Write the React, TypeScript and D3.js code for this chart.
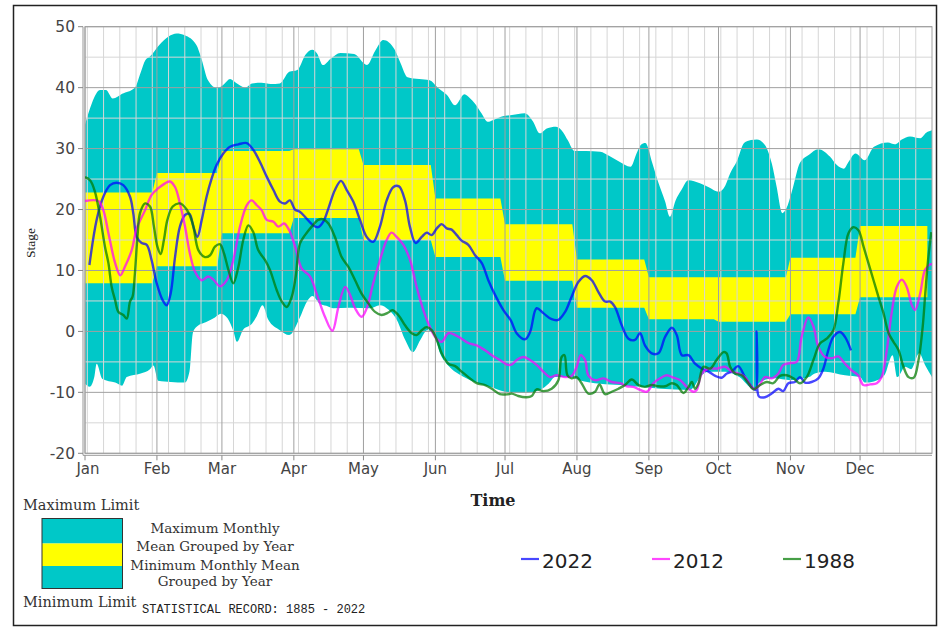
import React from "react";
import * as d3 from "d3";

// ---------- DATA (day of year, stage) ----------
const monthLabels = ["Jan", "Feb", "Mar", "Apr", "May", "Jun", "Jul", "Aug", "Sep", "Oct", "Nov", "Dec"];
const yTicks = [-20, -10, 0, 10, 20, 30, 40, 50];

const maxMonthlyMean = [22.8, 26.0, 29.6, 29.9, 27.3, 21.8, 17.6, 11.8, 8.9, 8.9, 12.1, 17.3];
const minMonthlyMean = [7.9, 10.7, 16.1, 18.6, 15.0, 12.2, 8.3, 3.9, 2.0, 1.6, 2.8, 5.6];

const maxLimit: [number, number][] = [
  [0, 33.9], [3, 37.5], [6.5, 39.6], [9, 39.6], [12, 38.2], [16, 39], [21.5, 40], [24, 42.5], [26, 44.5], [28, 45.1],
  [32, 47], [36, 48.4], [39.5, 48.9], [43, 48.6], [48, 47], [50, 45], [53, 41.2], [57, 39.9], [60, 40.6], [62.5, 41.4],
  [65, 40.8], [69, 40], [72, 40.7], [76, 40.8], [80, 40.6], [84, 40.7], [88, 42.6], [91.5, 42.9], [95, 45.4], [98, 46.2],
  [100, 45.6], [102.5, 43.7], [106, 44.8], [110, 45.7], [116, 45.5], [121.5, 43.7], [125, 46], [128.5, 47.8], [131, 47.4],
  [133.5, 46.2], [136, 44], [139, 41.7], [144, 41.4], [148.5, 41.2], [152, 40], [156, 38.8], [159.5, 37.1], [163.5, 38.9],
  [166, 38.2], [168, 37.4], [171, 35.7], [173.5, 34.4], [176, 34.7], [179, 35.2], [184, 35.5], [189.5, 35.8], [193, 34.5],
  [196, 32.5], [199, 33.3], [203, 33.6], [206, 32.7], [208, 31.4], [211, 29.6], [216, 29.6], [222, 29.5], [226, 28.8],
  [230.5, 27.8], [235, 27], [238, 29.5], [239.5, 30.6], [241.5, 30.9], [244.5, 27.6], [247, 24.5], [250, 21.3], [252, 18.8],
  [254.5, 21.5], [257, 23.2], [260, 24.8], [265, 24.3], [269, 23.6], [273, 22.9], [276, 24], [278, 25.9], [281, 28],
  [284, 30.9], [287, 31.4], [289.5, 31.5], [293, 30.6], [296, 27.5], [298, 23.8], [300.5, 19.4], [302.5, 20.4], [305, 23.5],
  [308, 27.6], [312, 29], [316, 29.9], [321, 28.7], [324, 27.3], [327, 26.7], [329, 27.8], [332, 29.2], [336, 28.1],
  [340, 30.3], [346, 31], [349, 30.7], [352, 31.5], [355.5, 32], [360, 31.7], [362.5, 32.6], [365, 33],
];

const minLimit: [number, number][] = [
  [0, -8.6], [2, -9.1], [4, -7.5], [5, -5.3], [7.5, -7.8], [13, -8.4], [16, -8.9], [18, -7.5], [24, -6.9], [28, -6.2],
  [29.5, -5.6], [31.5, -8.1], [37, -8.3], [43, -8.4], [45, -6.6], [46.5, -0.2], [48.5, 0.9], [52, 1.5], [56, 2.3],
  [58.5, 2.9], [61.5, 2.1], [64, 0], [65.5, -1.7], [68, 0.2], [72, 1.3], [74, 2.5], [76.5, 4.3], [79, 1.9], [84, 0.2],
  [88, -0.6], [92.5, 2.2], [95.5, 4.8], [98, 5.8], [101, 4.6], [104, 4.2], [107, 3.8], [114, 3.9], [123, 3.8], [127, 4.3],
  [131, 3.5], [134.5, 1.8], [138, -1.4], [141.3, -3.4], [144.5, -1.4], [147.5, 0.2], [150.5, -0.6], [153, -3.6],
  [157, -5.8], [161, -7], [166, -8], [174.5, -9.1], [181, -9.9], [189.5, -10.1], [196, -9.6], [200, -8.5], [202.5, -7.5],
  [209, -7.5], [213, -8], [222, -8.6], [230.5, -8.8], [239, -9.1], [248, -9.4], [260.5, -9.6], [263, -8.8], [265, -7.5],
  [269, -6.6], [276, -6.6], [282, -7.5], [288, -9.4], [291, -8.3], [297, -7.7], [304, -8], [312, -7.5], [314.5, -6.9],
  [319, -6.6], [327.5, -7.2], [334, -7.5], [336, -8.4], [340, -8.2], [344.5, -7.2], [348, -3.9], [350, -7.5],
  [353.5, -5.8], [356, -6.2], [359.5, -3.6], [362, -5.5], [365, -7.5],
];

const series2022: [number, number][] = [
  [1.9, 10.9], [5, 18.3], [7.9, 22.1], [10.8, 24], [13.6, 24.4], [16.5, 24], [19.4, 22.1], [20.8, 19.4], [22.3, 15.5],
  [24.4, 14.5], [26.6, 14.2], [28.7, 11.7], [30.9, 7.9], [33.5, 5.1], [35.2, 4.3], [36.9, 6.2], [38.8, 12.2], [40.9, 17.2],
  [43.1, 19.1], [45, 19.3], [46.7, 17.2], [48.4, 15.5], [50.3, 18.3], [52.4, 22.1], [54.6, 25.1], [56.7, 27.3],
  [59.6, 29.2], [62.5, 30.3], [66.1, 30.7], [69.7, 30.9], [72.5, 29.8], [75.4, 27.8], [78.3, 25.4], [81.2, 23.2],
  [84, 21.3], [86.2, 21], [88.3, 21.5], [90.5, 20], [92.7, 19.6], [94.8, 18.8], [98.4, 17.4], [100.5, 17.1], [102.7, 18],
  [104.9, 20.2], [107.7, 23.2], [110.3, 24.7], [112.8, 23.2], [115.6, 21.3], [118.5, 18.3], [121.4, 15.5], [124.2, 14.7],
  [127.1, 17.2], [130, 21.5], [132.9, 23.7], [135.3, 23.8], [137.9, 21.5], [140, 17.2], [142.5, 14.5], [145.1, 15.5],
  [147.2, 16.2], [149.4, 15.8], [151.6, 16.9], [153.7, 17.6], [155.9, 16.9], [158, 16.7], [160.2, 15.8], [162.3, 14.9],
  [165.2, 14.2], [168.1, 12.5], [171, 11.2], [173.8, 8.4], [176.7, 6], [180.3, 3.5], [183.5, 1.8], [186, -0.3],
  [189.6, -1.3], [191.8, -0.1], [194.6, 3.8], [197.5, 3], [201.1, 2], [204, 1.9], [206.9, 3.2], [209.7, 5.7], [212.6, 8.1],
  [215.5, 9.1], [218.4, 8.4], [221.2, 6.5], [224.1, 4.9], [226.3, 4.9], [228.4, 4], [231.3, 1], [234.2, -1.2],
  [237, -1.4], [239.2, -0.3], [241.3, -2.3], [244.2, -3.6], [247.1, -3.6], [250, -0.9], [252.9, 0.6], [255, -0.6],
  [257.2, -3.9], [260.1, -3.9], [262.9, -5.3], [265.8, -6.1], [268.7, -6.6], [271.6, -7.3], [274.4, -7.6], [276.6, -6.9],
  [278.7, -6.6], [281.5, -5.7], [284.4, -7.5], [287.3, -9.1], [289, -9.6], [289.4, 0], [289.8, -9.8], [290.5, -10.7],
  [293, -10.8], [295.9, -10.2], [298.8, -9.4], [300.9, -9.8], [303.1, -8.5], [305.9, -8.3], [308.1, -7.5], [310.3, -8.4],
  [313.1, -8.3], [316, -7.7], [318.2, -6.1], [320.3, -3.1], [322.5, -0.9], [325.3, -0.1], [327.5, -0.9], [330.1, -3.1],
];

const series2012: [number, number][] = [
  [0, 21.4], [5.7, 21.4], [7.9, 19.9], [10.1, 16.1], [13, 11.2], [15.2, 9.2], [17.2, 10.6], [20.1, 13.3], [22.3, 16.9],
  [25.9, 19.9], [28.7, 22.4], [31.6, 23.5], [34.5, 24.3], [36.6, 24.6], [38.8, 23.7], [40.9, 21], [43.1, 17.2],
  [45.2, 12.8], [47.4, 9.8], [50.3, 8.4], [53.1, 9], [55.3, 8.5], [58.2, 7.4], [61.1, 8.4], [63.9, 11.7], [66.8, 17.2],
  [69.7, 20.7], [71.8, 21.5], [74, 20.7], [76.1, 19.9], [78.3, 18.3], [81.2, 18], [83.3, 17.2], [85.8, 17.7], [88, 16.6],
  [90.5, 14], [93.4, 10.3], [97, 9], [99.8, 6.2], [103.4, 2.4], [106.6, 0.1], [109.2, 4], [112.1, 7.3], [114.2, 6],
  [116.4, 3.8], [119.2, 2.4], [121.4, 3.8], [124.2, 7.9], [127.1, 11.7], [130, 15], [132.1, 16.2], [134.3, 15.5],
  [137.2, 14.2], [140.1, 11.7], [142.9, 7.3], [145.8, 3.5], [148, 1.3], [150.9, -0.9], [153.7, -1.7], [156.6, -0.3],
  [159.5, -0.6], [162.3, -1.2], [165.2, -1.9], [168.8, -2.3], [172.4, -3.1], [175.3, -3.9], [178.8, -4.7], [182.4, -5.5],
  [184, -5.4], [186, -4.7], [188.9, -4.2], [191.8, -4.7], [194.6, -5.5], [197.5, -6.6], [200.4, -7.5], [203.2, -7.2],
  [206.9, -7.5], [209.7, -7.3], [211.9, -5.8], [213.6, -3.9], [215.5, -4.7], [216.9, -7.2], [219.8, -8], [223.4, -7.7],
  [227, -8.3], [230.6, -8.5], [233.5, -9], [236.3, -9.1], [239.2, -9.6], [242.1, -9.9], [245, -8.5], [247.8, -7.7],
  [250.7, -7.2], [253.6, -7.6], [256.5, -8], [259.3, -9.1], [262.2, -9.9], [263.6, -9.6], [265.8, -6.9], [268.7, -6.1],
  [272.3, -6.1], [275.9, -5.8], [278.7, -6.6], [281.5, -6.9], [284.4, -7.5], [288, -9.4], [290.1, -9.1], [293, -7.5],
  [295.9, -7.7], [298.8, -6.9], [300.9, -5.5], [303.8, -5.2], [306.7, -5], [308.8, -0.9], [311.7, 2.3], [313.9, 0.8],
  [316, -2.5], [318.9, -4.2], [321.8, -4.4], [324.6, -4.1], [327.5, -5.3], [330.4, -6.4], [333.2, -7.2], [335.4, -8.8],
  [338.3, -8.7], [341.2, -8.5], [343.3, -7.5], [345.5, -3.1], [347.6, 3], [349.8, 7.3], [352, 8.5], [354.1, 7.3],
  [356.3, 4.3], [357.7, 3.5], [359.9, 6.2], [362, 10.1], [364.2, 11], [365, 11],
];

const series1988: [number, number][] = [
  [0, 25.3], [2.2, 24.8], [4.3, 22.9], [6.5, 18.8], [8.6, 13.9], [10.1, 11.2], [11.5, 7.3], [13, 5.1], [14.4, 3.2],
  [16.5, 2.7], [18, 2.1], [19.4, 4.9], [20.5, 5.7], [21.5, 9.5], [22.6, 15.5], [23.7, 19.4], [25.9, 21], [28, 20.5],
  [29.7, 17.2], [31.2, 13.9], [32.6, 12.7], [34, 15], [35.5, 18.3], [37.8, 20.5], [40.9, 21], [43.8, 20], [46.4, 17.7],
  [48.9, 13.3], [51.7, 12.2], [53.9, 12.5], [56, 13.9], [58.2, 14.3], [59.9, 12.8], [61.8, 10.1], [63.9, 7.9],
  [66.1, 10.6], [68.2, 15], [70.4, 17.4], [72.5, 16.3], [74.7, 13.3], [77.6, 11.7], [79.7, 10.1], [82.6, 6.8],
  [84.8, 4.9], [86.9, 4], [89.1, 5.7], [90.8, 9], [92.6, 14.4], [94.8, 15.8], [97.7, 17.2], [100.5, 18.3], [102.7, 18.4],
  [104.9, 17.7], [107.7, 15.5], [110.6, 12.2], [113.5, 10.6], [116.4, 8.4], [119.2, 6.2], [122.1, 4.6], [125, 3.2],
  [127.8, 2.7], [130.7, 3.1], [132.4, 3.5], [135, 2.7], [137.9, 1], [140.8, -0.3], [142.9, -0.6], [145.1, 0.2],
  [147.2, 0.7], [149.4, 0.2], [151.6, -1.4], [153.7, -3.6], [156.6, -5.3], [159.5, -5.7], [162.3, -6.6], [165.2, -7.5],
  [168.8, -8.5], [172.4, -8.8], [175.3, -9.4], [178.8, -10.3], [182.4, -10.3], [184, -10.2], [186.7, -10.6],
  [190.3, -10.8], [192.5, -10.6], [194.6, -9.5], [197.5, -9.8], [201.1, -9.4], [204, -8], [205.4, -4.2], [206.6, -3.9],
  [207.9, -7.2], [209.7, -7.7], [211.9, -7.5], [214, -8.5], [216.9, -10.2], [219.8, -9.9], [221.7, -8.7], [224.1, -10.3],
  [227, -9.9], [229.9, -9.4], [232.7, -8.8], [235.6, -7.9], [238.5, -8.8], [241.3, -9.1], [244.2, -8.8], [247.1, -9],
  [250, -9], [252.9, -8.5], [255, -8.8], [257.9, -10.1], [260.1, -9.1], [261.5, -8.3], [262.9, -9.4], [264.4, -8.5],
  [266.5, -5.8], [269.4, -6.1], [272.3, -4.6], [275.2, -3.4], [276.5, -3.6], [278, -5.8], [280.1, -6.9], [283, -7.2],
  [285.9, -8.5], [288, -9.5], [290.9, -8.8], [293.8, -8.3], [296.6, -8.5], [299.5, -7.3], [302.4, -7.2], [305.3, -7.7],
  [308.1, -8.5], [311, -7.5], [313.9, -4.7], [316.7, -2], [319.6, -1.2], [322.5, 0.2], [324.6, 4.6], [326.8, 11.2],
  [329, 16.1], [331.1, 17.1], [333.3, 16.6], [335.5, 13.9], [337.6, 11.2], [339.8, 8.4], [341.9, 5.7], [344.1, 3],
  [346.3, -0.3], [348.4, -1.7], [350.6, -3.1], [352.7, -5.8], [354.9, -7.5], [357.1, -7.6], [359.2, -4.7], [361, 0.8],
  [362.1, 6.2], [363.3, 11.7], [364.7, 16.3],
];

const legendYears = ["2022", "2012", "1988"];
const lineColors = ["#0000ff", "#ff00ff", "#007a00"];

// ---------- LAYOUT ----------
const W = 940;
const H = 628;
const PL = 85, PR = 932, PT = 26.7, PB = 453.3;

export default function App() {
  const yearStart = new Date(2022, 0, 1);
  const yearEnd = new Date(2023, 0, 1);
  const dayOf = (dt: Date) => d3.timeDay.count(yearStart, dt);
  const x = d3.scaleLinear().domain([0, 365]).range([PL, PR]);
  const y = d3.scaleLinear().domain([-20, 50]).range([PB, PT]);

  const monthDays = d3.timeMonth.range(yearStart, yearEnd).map(dayOf);
  const weekDays = d3.timeSunday.range(yearStart, yearEnd).map(dayOf);
  const minorY = d3.range(-20, 51, 5).filter((v) => v % 10 !== 0);

  const smooth = d3.curveMonotoneX;
  const topArea = d3.area<[number, number]>().x((d) => x(d[0])).y0(PB).y1((d) => y(d[1])).curve(smooth);

  const bandPts: { d: number; lo: number; hi: number }[] = [];
  monthDays.forEach((s, i) => {
    const e = (i < 11 ? monthDays[i + 1] : 365) - 2;
    bandPts.push({ d: s, lo: minMonthlyMean[i], hi: maxMonthlyMean[i] });
    bandPts.push({ d: e, lo: minMonthlyMean[i], hi: maxMonthlyMean[i] });
  });
  const band = d3.area<{ d: number; lo: number; hi: number }>()
    .x((p) => x(p.d)).y0((p) => y(p.lo)).y1((p) => y(p.hi));

  const line = d3.line<[number, number]>().x((d) => x(d[0])).y((d) => y(d[1])).curve(d3.curveCatmullRom.alpha(0.5));
  const allSeries = [series2022, series2012, series1988];

  const serif = "'DejaVu Serif', serif";
  const sans = "'DejaVu Sans', sans-serif";

  return (
    <svg width={W} height={H} style={{ position: "absolute", left: 0, top: 0, background: "#fff" }}>
      <rect x={13.5} y={5.5} width={923} height={620} fill="#fff" stroke="#222" strokeWidth={1.5} />
      <defs>
        <clipPath id="plotclip">
          <rect x={PL} y={PT} width={PR - PL} height={PB - PT} />
        </clipPath>
      </defs>
      <g clipPath="url(#plotclip)">
        <path d={topArea(maxLimit) || ""} fill="#00c8c8" />
        <path d={topArea(minLimit) || ""} fill="#ffffff" />
        <path d={band(bandPts) || ""} fill="#ffff00" />
      </g>
      {/* grid */}
      <g>
        {minorY.map((v) => (
          <line key={"my" + v} x1={PL} x2={PR} y1={y(v)} y2={y(v)} stroke="#d6d6d6" strokeWidth={1} />
        ))}
        {weekDays.map((d) => (
          <line key={"wx" + d} x1={x(d)} x2={x(d)} y1={PT} y2={PB} stroke="#d6d6d6" strokeWidth={1} />
        ))}
        {yTicks.map((v) => (
          <line key={"My" + v} x1={PL} x2={PR} y1={y(v)} y2={y(v)} stroke="#a0a0a0" strokeWidth={1} />
        ))}
        {monthDays.map((d) => (
          <line key={"Mx" + d} x1={x(d)} x2={x(d)} y1={PT} y2={PB} stroke="#a0a0a0" strokeWidth={1} />
        ))}
        <rect x={PL} y={PT} width={PR - PL} height={PB - PT} fill="none" stroke="#a0a0a0" strokeWidth={1} />
      </g>
      {/* axes */}
      <line x1={PL - 2} x2={PL - 2} y1={PT} y2={PB + 2} stroke="#999" strokeWidth={1} />
      <line x1={PL - 2} x2={PR} y1={PB + 2} y2={PB + 2} stroke="#999" strokeWidth={1} />
      {yTicks.map((v) => (
        <g key={"yt" + v}>
          <line x1={PL - 7} x2={PL - 2} y1={y(v)} y2={y(v)} stroke="#888" />
          <text x={PL - 10} y={y(v)} dy="0.36em" textAnchor="end" fontFamily={sans} fontSize={15.5} fill="#444">
            {v}
          </text>
        </g>
      ))}
      {monthDays.map((d, i) => (
        <g key={"xt" + d}>
          <line x1={x(d)} x2={x(d)} y1={PB + 2} y2={PB + 7} stroke="#888" />
          <text x={x(d) + (i === 0 ? 3 : 0)} y={474} textAnchor="middle" fontFamily={sans} fontSize={15} fill="#444">
            {monthLabels[i]}
          </text>
        </g>
      ))}
      {/* series */}
      <g clipPath="url(#plotclip)">
        {allSeries.map((s, i) => (
          <path key={"s" + i} d={line(s) || ""} fill="none" stroke={lineColors[i]} strokeOpacity={0.72}
            strokeWidth={2.4} strokeLinejoin="round" />
        ))}
      </g>
      {/* axis titles */}
      <text transform="translate(35,243) rotate(-90)" textAnchor="middle" fontFamily="'Liberation Serif', serif"
        fontSize={13.5} fill="#222">Stage</text>
      <text x={493} y={506} textAnchor="middle" fontFamily={serif} fontWeight="bold" fontSize={16} fill="#222">Time</text>

      {/* range legend */}
      <text x={23} y={510} fontFamily={serif} fontSize={14.5} fill="#333">Maximum Limit</text>
      <rect x={42} y={518.5} width={80.5} height={25} fill="#00c8c8" />
      <rect x={42} y={543.5} width={80.5} height={22.5} fill="#ffff00" />
      <rect x={42} y={566} width={80.5} height={22.5} fill="#00c8c8" />
      <rect x={42} y={518.5} width={80.5} height={70} fill="none" stroke="#333" strokeWidth={1} />
      <text x={215} y={533} textAnchor="middle" fontFamily={serif} fontSize={13.5} fill="#333">Maximum Monthly</text>
      <text x={215} y={550.5} textAnchor="middle" fontFamily={serif} fontSize={13.5} fill="#333">Mean Grouped by Year</text>
      <text x={215} y={570} textAnchor="middle" fontFamily={serif} fontSize={13.5} fill="#333">Minimum Monthly Mean</text>
      <text x={215} y={585.5} textAnchor="middle" fontFamily={serif} fontSize={13.5} fill="#333">Grouped by Year</text>
      <text x={23} y={607} fontFamily={serif} fontSize={14.5} fill="#333">Minimum Limit</text>
      <text x={142} y={613} fontFamily="'Liberation Mono', monospace" fontSize={12} fill="#222">
        STATISTICAL RECORD: 1885 - 2022
      </text>

      {/* series legend */}
      {legendYears.map((yr, i) => {
        const lx = [521, 652, 783][i];
        return (
          <g key={yr}>
            <line x1={lx} x2={lx + 18} y1={559} y2={559} stroke={lineColors[i]} strokeOpacity={0.72} strokeWidth={2.2} />
            <text x={lx + 21} y={567.5} fontFamily={sans} fontSize={20} fill="#222">{yr}</text>
          </g>
        );
      })}
    </svg>
  );
}
